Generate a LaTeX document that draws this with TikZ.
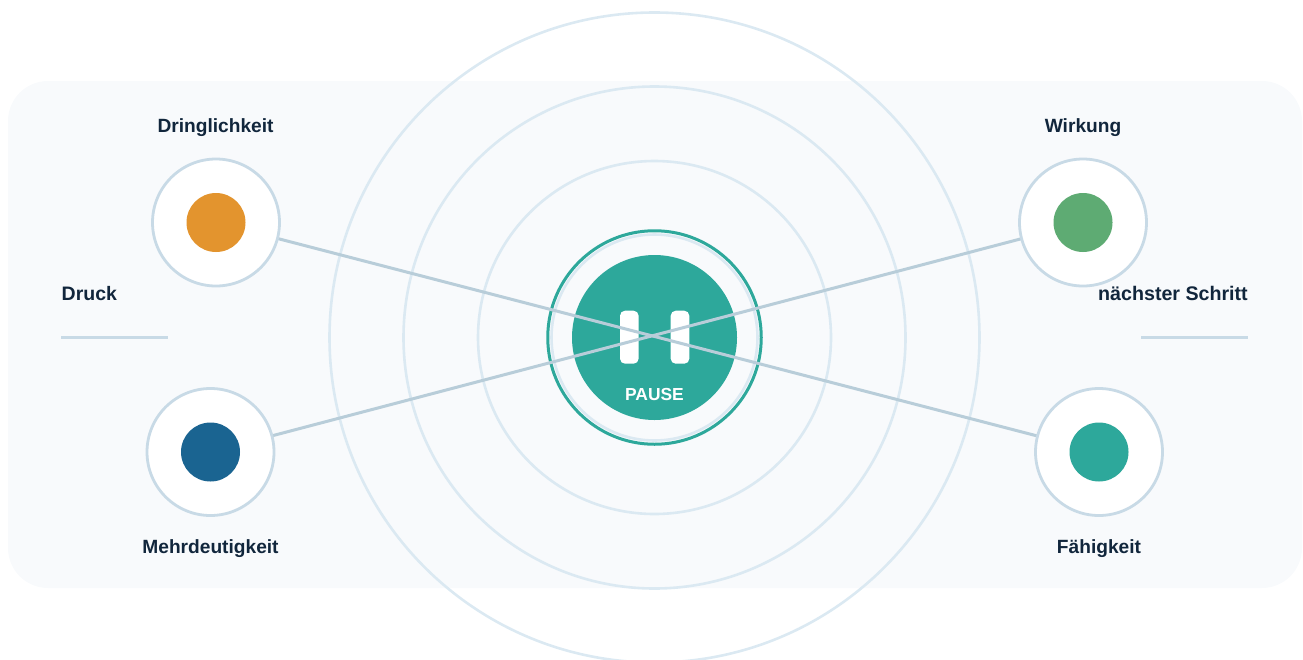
\documentclass[tikz,border=0pt]{standalone}
\usepackage{fontspec}
\setmainfont{Liberation Sans}
\definecolor{teal1}{HTML}{2DA89B}
\definecolor{orange1}{HTML}{E3942E}
\definecolor{blue1}{HTML}{1A6491}
\definecolor{green1}{HTML}{5EAB73}
\definecolor{ink}{HTML}{11263C}
\definecolor{panel}{HTML}{F8FAFC}
\definecolor{ringc}{HTML}{DBE9F2}
\definecolor{nodec}{HTML}{C8DAE6}
\definecolor{linec}{HTML}{B8CDD9}
\tikzset{
  x=1pt,y=-1pt,
  ring/.style={circle,draw=ringc,line width=2.6pt,fill=none,inner sep=0pt,outer sep=0pt,minimum size=#1},
  spoke/.style={draw=linec,line width=3pt},
  hub/.style={circle,draw=nodec,line width=2.8pt,fill=white,inner sep=0pt,outer sep=0pt,minimum size=127pt},
  dot/.style={circle,fill=#1,inner sep=0pt,outer sep=0pt,minimum size=59pt},
  lab/.style={font=\bfseries\fontsize{19.15}{22}\selectfont,text=ink,inner sep=0pt,anchor=base},
  bar/.style={fill=white,rounded corners=5pt,inner sep=0pt,outer sep=0pt,minimum width=18.6pt,minimum height=53pt},
  divider/.style={draw=nodec,line width=2.8pt},
}
\begin{document}
\begin{tikzpicture}
\useasboundingbox (0,0) rectangle (1303,659);
\clip (0,0) rectangle (1303,659);
\fill[panel,rounded corners=40pt] (8,81) rectangle (1302,588);
\coordinate (c) at (654.5,337.5);
\node[ring=650pt] (r3) at (c) {};
\node[ring=502pt] (r2) at (c) {};
\node[ring=353pt] (r1) at (c) {};
\node[ring=206pt] (r0) at (c) {};
\node[circle,draw=teal1,line width=3pt,inner sep=0pt,minimum size=213.5pt] (halo) at (c) {};
\node[circle,fill=teal1,inner sep=0pt,minimum size=165pt] (core) at (c) {};
\node[bar] (b1) at (629.3,337.2) {};
\node[bar] (b2) at (680,337.2) {};
\node[font=\bfseries\fontsize{17.4}{20}\selectfont,text=white,inner sep=0pt,anchor=base] (pause) at (654.5,400.8) {PAUSE};
\coordinate (a) at (216,222.5);
\coordinate (b) at (210.5,452);
\coordinate (d) at (1083,222.5);
\coordinate (e) at (1099,452);
\draw[spoke] (a) -- (e);
\draw[spoke] (b) -- (d);
\node[hub] (na) at (a) {};
\node[hub] (nb) at (b) {};
\node[hub] (nd) at (d) {};
\node[hub] (ne) at (e) {};
\node[dot=orange1] (da) at (a) {};
\node[dot=blue1] (db) at (b) {};
\node[dot=green1] (dd) at (d) {};
\node[dot=teal1] (de) at (e) {};
\node[lab] (la) at (215.5,132.3) {Dringlichkeit};
\node[lab] (lb) at (210.5,553) {Mehrdeutigkeit};
\node[lab] (ld) at (1083,132.3) {Wirkung};
\node[lab] (le) at (1099,553) {Fähigkeit};
\node[lab,anchor=base west,font=\bfseries\fontsize{19.5}{22}\selectfont] (ll) at (61.5,300) {Druck};
\node[lab,anchor=base east,font=\bfseries\fontsize{19.65}{22}\selectfont] (lr) at (1248,300) {nächster Schritt};
\coordinate (l1) at (61,337.5);
\coordinate (l2) at (168,337.5);
\coordinate (r1a) at (1141,337.5);
\coordinate (r2a) at (1248,337.5);
\draw[divider] (l1) -- (l2);
\draw[divider] (r1a) -- (r2a);
\end{tikzpicture}
\end{document}
